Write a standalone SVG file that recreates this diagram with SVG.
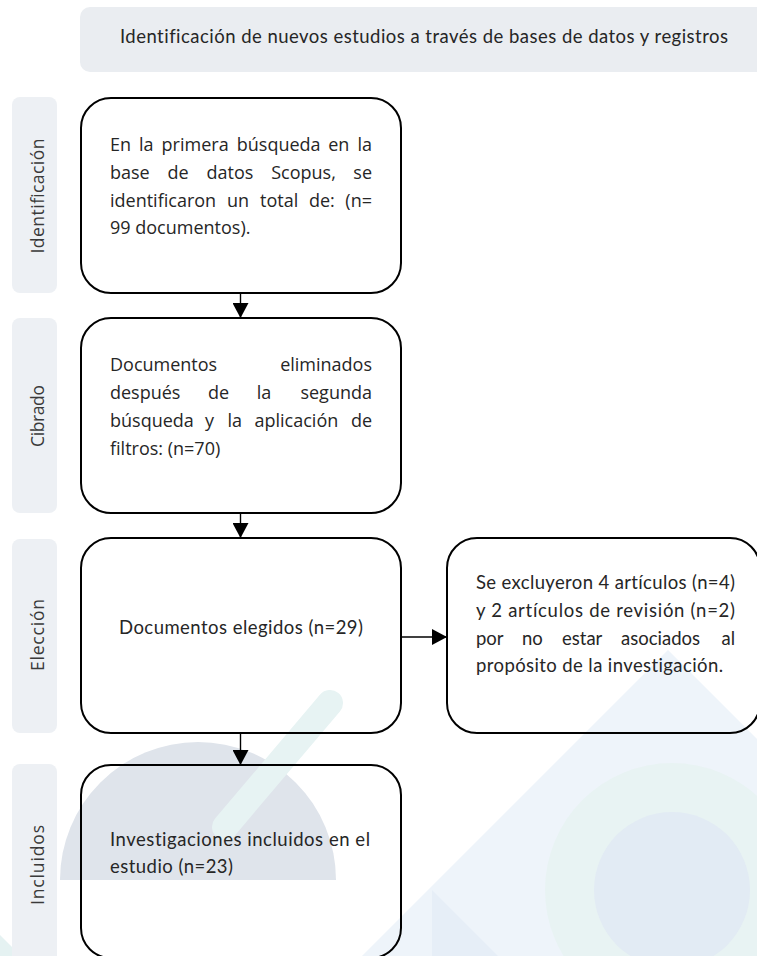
<svg xmlns="http://www.w3.org/2000/svg" width="757" height="956" viewBox="0 0 757 956">
<style>
.lane{fill:#edf0f4}
.box{fill:none;stroke:#000;stroke-width:2}
.seg{font-family:"Open Sans","Noto Sans",sans-serif;font-size:18px;fill:#262626}
.cal{font-family:Lato,"Liberation Sans",sans-serif;font-size:18.5px;fill:#262626;font-variant-ligatures:none}
.lbl{font-family:"Open Sans","Noto Sans",sans-serif;font-size:17.5px;fill:#3a3a3a}
.conn{stroke:#000;stroke-width:1.4;fill:none}
</style>
<defs>
<marker id="ah" markerUnits="userSpaceOnUse" viewBox="0 0 15 16" refX="15" refY="8" markerWidth="15" markerHeight="16" orient="auto">
<path d="M0,0 L15,8 L0,16 z" fill="#000"/>
</marker>
</defs>
<rect width="757" height="956" fill="#fff"/>
<g id="background">
<polygon points="668,650 757,739 757,956 362,956" fill="#eef4fa"/>
<polygon points="432,890 498,956 432,956" fill="#e6eef7"/>
<circle cx="672" cy="890" r="127" fill="#e8f3f3"/>
<circle cx="672" cy="890" r="78" fill="#e2ebf4"/>
<path d="M60,880 A138,138 0 0 1 336,880 Z" fill="#dfe4eb"/>
<line x1="330" y1="703" x2="225" y2="827" stroke="#e7f3f3" stroke-width="26" stroke-linecap="round"/>
<polygon points="0,935 21,956 0,956" fill="#e5f2f2"/>
</g>
<g id="header">
<rect x="80" y="7" width="700" height="65" rx="10" fill="#eaedf1"/>
<text class="cal" x="424" y="43" text-anchor="middle" font-size="17" textLength="608" lengthAdjust="spacing" fill="#333">Identificación de nuevos estudios a través de bases de datos y registros</text>
</g>
<g id="lane-identificacion">
<rect class="lane" x="12" y="97" width="45" height="196" rx="8"/>
<text class="lbl" transform="translate(44,196) rotate(-90)" text-anchor="middle" textLength="115" lengthAdjust="spacing">Identificación</text>
</g>
<g id="lane-cibrado">
<rect class="lane" x="12" y="318" width="45" height="195" rx="8"/>
<text class="lbl" transform="translate(44,416) rotate(-90)" text-anchor="middle" textLength="62" lengthAdjust="spacing">Cibrado</text>
</g>
<g id="lane-eleccion">
<rect class="lane" x="12" y="539" width="45" height="194" rx="8"/>
<text class="lbl" transform="translate(44,635) rotate(-90)" text-anchor="middle" textLength="72" lengthAdjust="spacing">Elección</text>
</g>
<g id="lane-incluidos">
<rect class="lane" x="12" y="764" width="45" height="210" rx="8"/>
<text class="lbl" transform="translate(44,865) rotate(-90)" text-anchor="middle" textLength="80" lengthAdjust="spacing">Incluidos</text>
</g>
<g id="node-identificacion">
<rect class="box" x="81" y="98" width="320" height="195" rx="30"/>
<text class="seg" y="151"><tspan x="110">En</tspan><tspan x="139">la</tspan><tspan x="161.6">primera</tspan><tspan x="236.8">búsqueda</tspan><tspan x="328.2">en</tspan><tspan x="372" text-anchor="end">la</tspan></text>
<text class="seg" y="179"><tspan x="110">base</tspan><tspan x="167.6">de</tspan><tspan x="206.6">datos</tspan><tspan x="271.2">Scopus,</tspan><tspan x="372" text-anchor="end">se</tspan></text>
<text class="seg" y="207"><tspan x="110">identificaron</tspan><tspan x="227">un</tspan><tspan x="260">total</tspan><tspan x="309">de:</tspan><tspan x="372" text-anchor="end">(n=</tspan></text>
<text class="seg" x="110" y="234">99 documentos).</text>
</g>
<g id="node-cibrado">
<rect class="box" x="81" y="318" width="320" height="195" rx="30"/>
<text class="seg" y="371"><tspan x="110">Documentos</tspan><tspan x="372" text-anchor="end">eliminados</tspan></text>
<text class="seg" y="399"><tspan x="110">después</tspan><tspan x="207.9">de</tspan><tspan x="256.8">la</tspan><tspan x="372" text-anchor="end">segunda</tspan></text>
<text class="seg" y="427"><tspan x="110">búsqueda</tspan><tspan x="205">y</tspan><tspan x="227.5">la</tspan><tspan x="254.5">aplicación</tspan><tspan x="372" text-anchor="end">de</tspan></text>
<text class="seg" x="110" y="455">filtros: (n=70)</text>
</g>
<g id="node-eleccion">
<rect class="box" x="81" y="538" width="320" height="195" rx="30"/>
<text class="cal" x="119" y="634" textLength="244" lengthAdjust="spacing">Documentos elegidos (n=29)</text>
</g>
<g id="node-excluidos">
<rect class="box" x="447" y="538" width="313" height="195" rx="30"/>
<text class="cal" x="476" y="589" textLength="259" lengthAdjust="spacing">Se excluyeron 4 artículos (n=4)</text>
<text class="cal" x="476" y="617" textLength="259" lengthAdjust="spacing">y 2 artículos de revisión (n=2)</text>
<text class="cal" y="645"><tspan x="476">por</tspan><tspan x="522">no</tspan><tspan x="562">estar</tspan><tspan x="621">asociados</tspan><tspan x="735" text-anchor="end">al</tspan></text>
<text class="cal" x="476" y="672" textLength="247" lengthAdjust="spacing">propósito de la investigación.</text>
</g>
<g id="node-incluidos">
<rect class="box" x="81" y="765" width="320" height="193" rx="30"/>
<text class="cal" x="110" y="846" textLength="260" lengthAdjust="spacing">Investigaciones incluidos en el</text>
<text class="cal" x="110" y="873" textLength="123" lengthAdjust="spacing">estudio (n=23)</text>
</g>
<g id="connectors">
<line class="conn" x1="240.5" y1="293" x2="240.5" y2="318" marker-end="url(#ah)"/>
<line class="conn" x1="240.5" y1="513" x2="240.5" y2="538" marker-end="url(#ah)"/>
<line class="conn" x1="240.5" y1="733" x2="240.5" y2="765" marker-end="url(#ah)"/>
<line class="conn" x1="401" y1="637" x2="447" y2="637" marker-end="url(#ah)"/>
</g>
</svg>
